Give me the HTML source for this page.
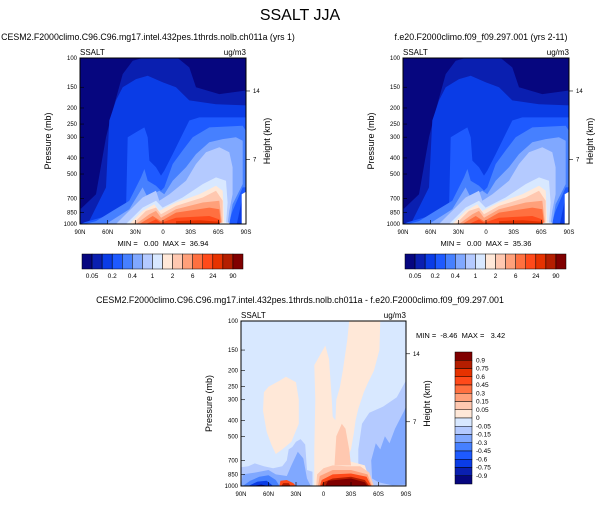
<!DOCTYPE html>
<html><head><meta charset="utf-8"><style>
body{margin:0;background:#fff;}
svg{display:block;font-family:"Liberation Sans",sans-serif;}
text{white-space:pre;}
</style></head><body>
<svg id="fig" width="601" height="505" viewBox="0 0 601 505" xmlns="http://www.w3.org/2000/svg">
<text x="300" y="20" font-size="16" text-anchor="middle">SSALT JJA</text>
</svg>
<script>
// ---- data ----
const pressureTicks=[100,150,200,250,300,400,500,700,850,1000];
const latTicks=[90,60,30,0,-30,-60,-90];
const latLabels=["90N","60N","30N","0","30S","60S","90S"];
const heightTicks=[14,7];
const heightTickPressure=[158,408];
const absLevels=["0.05","0.2","0.4","1","2","6","24","90"];
const absColors=["#06067f","#0a1fb0","#0a3ce6","#1e5aff","#4680ff","#80a8ff","#b4caff","#d8e8ff","#ffe8d8","#ffc8b0","#ffa07a","#ff7040","#ff4a1a","#e63200","#b41e00","#800000"];
const diffLevels=["0.9","0.75","0.6","0.45","0.3","0.15","0.05","0","-0.05","-0.15","-0.3","-0.45","-0.6","-0.75","-0.9"];
const diffColors=["#800000","#b41e00","#e63200","#ff4a1a","#ff7040","#ffa07a","#ffc8b0","#ffe8d8","#d8e8ff","#b4caff","#80a8ff","#4680ff","#1e5aff","#0a3ce6","#0a1fb0","#06067f"];
// contour regions: [colorIndex, [[lat,p],...]]  (-1 = missing/white)
const absRegions=[
[1,[[90,780],[89,810],[72.7,661],[61.8,300],[54.6,208],[43.7,125],[32.9,104],[22.1,100],[-15.9,100],[-28.5,114],[-35.8,150],[-61.1,165],[-90,157],[-90,1000],[90,1000]]],
[2,[[90,1000],[80,960],[61.8,602],[58.2,238],[51,180],[43.7,150],[29.3,134],[16.6,128],[0.4,140],[-14.1,150],[-28.5,180],[-57.5,190],[-90,193],[-90,1000]]],
[3,[[89,1000],[85,975],[54.6,874],[40.1,834],[38.3,300],[29.3,280],[20.2,262],[16.6,300],[14.8,415],[7.6,455],[2.2,511],[-1.4,477],[-10.5,379],[-21.3,287],[-28.5,238],[-39.4,228],[-90,228],[-90,661],[-86,700],[-80,1000]]],
[4,[[85,1000],[72.7,960],[54.6,834],[36.5,725],[23.9,524],[20.2,466],[16.6,549],[7.6,588],[2.2,631],[-1.4,602],[-10.5,435],[-21.3,361],[-32.2,300],[-50.2,262],[-86.4,256],[-90,275],[-90,600],[-86.4,602],[-75.5,834],[-72,960],[-72,1000]]],
[5,[[61.8,1000],[36.5,815],[22.1,602],[16.6,692],[4,631],[-1.4,661],[-10.5,549],[-24.9,455],[-35.8,379],[-50.2,322],[-64.7,308],[-79.1,300],[-86.4,315],[-86.4,575],[-75.5,760],[-72,1000]]],
[6,[[51,1000],[22.1,692],[7.6,631],[4,725],[-6.9,661],[-24.9,549],[-35.8,435],[-46.6,370],[-61.1,345],[-71.9,370],[-75.5,455],[-75.5,661],[-71.9,834],[-70.1,1000]]],
[7,[[40.1,1000],[22.1,796],[7.6,725],[0.4,796],[-21.3,692],[-43,575],[-57.5,524],[-68.3,549],[-70.1,742],[-68.3,1000]]],
[8,[[36.5,1000],[22.1,834],[9.4,760],[4,834],[-14.1,742],[-39.4,661],[-57.5,588],[-64.7,631],[-66.5,1000]]],
[9,[[32.9,1000],[18.4,834],[7.6,796],[2.2,874],[-14.1,778],[-43,692],[-57.5,631],[-64.7,725],[-64.7,1000]]],
[10,[[29.3,1000],[14.8,874],[7.6,834],[2.2,916],[-14.1,815],[-43,742],[-61.1,725],[-64,1000]]],
[11,[[25.7,1000],[11.2,895],[2.2,960],[-14.1,854],[-50.2,796],[-61.1,815],[-62.9,1000]]],
[12,[[18.4,1000],[7.6,938],[2.2,983],[-14.1,916],[-50.2,895],[-61.1,938],[-62,1000]]],
[13,[[-14.1,1000],[-14.1,960],[-40,950],[-61.1,970],[-61.5,1000]]],
[-1,[[-85.3,1000],[-85.3,661],[-90,640],[-90,1000]]],
[-1,[[-61.1,1000],[-62,983],[-71.9,983],[-71.9,1000]]]
];
const diffRegions=[
[9,[[-38,1000],[-38,600],[-42,420],[-50,360],[-65,330],[-80,290],[-88,240],[-90,230],[-90,1000]]],
[9,[[90,1000],[90,770],[82,760],[75,730],[65,760],[55,780],[45,760],[40,700],[38,600],[34,580],[30,540],[25,520],[20,560],[18,800],[12,820],[12,1000]]],
[10,[[90,1000],[88,850],[75,830],[60,800],[52,850],[40,870],[35,750],[28,620],[22,680],[18,900],[14,1000]]],
[10,[[-53,900],[-52,700],[-57,550],[-62,600],[-67,500],[-72,550],[-78,450],[-88,350],[-90,330],[-90,980],[-75,990],[-60,950]]],
[7,[[60,250],[48,230],[41,218],[30,235],[27,300],[27,420],[35,540],[45,600],[52,640],[57,560],[62,470],[66,350],[65,270]]],
[7,[[10,185],[-2,141],[-6,170],[-9,300],[-10,380],[-13,400],[-14,300],[-18,250],[-21,200],[-26,130],[-28,100],[-62,100],[-61,150],[-55,200],[-48,240],[-44,270],[-38,340],[-35,400],[-33,480],[-30,600],[-25,700],[-45,750],[-50,900],[-55,1000],[10,1000],[10,860],[10,600],[9,300]]],
[6,[[-12,750],[-14,500],[-20,420],[-24,450],[-28,600],[-30,750]]],
[11,[[88,1000],[80,930],[70,880],[60,860],[52,920],[48,1000]]],
[13,[[82,1000],[72,940],[62,930],[55,1000]]],
[15,[[78,1000],[68,980],[60,1000]]],
[3,[[48,1000],[47,930],[40,920],[33,960],[30,1000]]],
[1,[[46,1000],[44,960],[38,960],[36,1000]]],
[6,[[8,1000],[7,850],[0,780],[-10,750],[-25,760],[-40,760],[-50,830],[-55,1000]]],
[5,[[6,1000],[4,870],[-10,800],[-30,800],[-48,850],[-53,1000]]],
[3,[[4,1000],[2,920],[-10,850],[-30,840],[-47,880],[-52,1000]]],
[1,[[3,1000],[0,950],[-10,900],[-30,880],[-45,920],[-50,1000]]],
[0,[[-2,1000],[-5,930],[-30,900],[-45,950],[-48,1000]]]
];
// ---- drawing ----
const svg=document.getElementById('fig');
const NS="http://www.w3.org/2000/svg";
function mk(tag,attrs,parent){const e=document.createElementNS(NS,tag);for(const k in attrs)e.setAttribute(k,attrs[k]);(parent||svg).appendChild(e);return e;}
function txt(x,y,s,size,anchor,parent,rot){const t=mk('text',{x:x,y:y,'font-size':size,'text-anchor':anchor||'start'},parent);if(rot)t.setAttribute('transform','rotate(-90 '+x+' '+y+')');t.textContent=s;return t;}
function panel(L,T,W,H,bgIdx,colors,regions,name,sub,subX){
  const g=mk('g',{});
  
  
  const xs=lat=>L+(90-lat)/180*W;
  const ys=p=>T+Math.log10(p/100)*H;
  const bg=mk('rect',{x:L,y:T,width:W,height:H,fill:colors[bgIdx]},g);
  
  
  regions.forEach(r=>{
    const pts=r[1].map(q=>xs(q[0]).toFixed(1)+','+ys(q[1]).toFixed(1)).join(' ');
    const pg=mk('polygon',{points:pts,fill:r[0]<0?'#fff':colors[r[0]]},g);
    
    
  });
  mk('rect',{x:L,y:T,width:W,height:H,fill:'none',stroke:'#000','stroke-width':1},g);
  pressureTicks.forEach(p=>{const y=ys(p);mk('line',{x1:L,x2:L+4,y1:y,y2:y,stroke:'#000','stroke-width':0.6},g);
    const t=txt(L-3,y+2,String(p),6,'end',g);});
  latTicks.forEach((lat,i)=>{const x=xs(lat);mk('line',{x1:x,x2:x,y1:T+H,y2:T+H-4,stroke:'#000','stroke-width':0.6},g);
    const t=txt(x,T+H+10,latLabels[i],6,'middle',g);});
  heightTicks.forEach((h,i)=>{const y=ys(heightTickPressure[i]);mk('line',{x1:L+W,x2:L+W+4,y1:y,y2:y,stroke:'#000','stroke-width':0.6},g);
    const t=txt(L+W+7,y+2,String(h),6,'start',g);});
  let t=txt(L-29,T+H/2,'Pressure (mb)',9,'middle',g,true);
  t=txt(L+W+24,T+H/2,'Height (km)',9,'middle',g,true);
  t=txt(L,T-3,'SSALT',8,'start',g);
  t=txt(L+W,T-3,'ug/m3',8,'end',g);
  t=txt(subX,T-18,sub,8.8,'middle',g);
  return g;
}
function hbar(L,T,W,H){
  const bw=W/absColors.length;
  absColors.forEach((c,i)=>{const r=mk('rect',{x:L+i*bw,y:T,width:bw,height:H,fill:c,stroke:'#000','stroke-width':0.5});
    });
  absLevels.forEach((s,i)=>{const t=txt(L+(2*i+1)*bw,T+H+9,s,6.5,'middle');});
}
function vbar(L,T,W,H){
  const bh=H/diffColors.length;
  diffColors.forEach((c,i)=>{const r=mk('rect',{x:L,y:T+i*bh,width:W,height:bh,fill:c,stroke:'#000','stroke-width':0.5});
    });
  diffLevels.forEach((s,i)=>{const t=txt(L+W+4,T+(i+1)*bh+2,s,6.5,'start');});
}
panel(80,58,166,166,0,absColors,absRegions,'model-panel-left','CESM2.F2000climo.C96.C96.mg17.intel.432pes.1thrds.nolb.ch011a (yrs 1)',148);
panel(403,58,166,166,0,absColors,absRegions,'model-panel-right','f.e20.F2000climo.f09_f09.297.001 (yrs 2-11)',481);
panel(241,321,165,165,8,diffColors,diffRegions,'difference-panel','CESM2.F2000climo.C96.C96.mg17.intel.432pes.1thrds.nolb.ch011a - f.e20.F2000climo.f09_f09.297.001',300);
let m=txt(163,246,'MIN =   0.00  MAX =  36.94',7.5,'middle');
m=txt(486,246,'MIN =   0.00  MAX =  35.36',7.5,'middle');
m=txt(416,338,'MIN =  -8.46  MAX =   3.42',7.5,'start');
hbar(82,254,161,15);
hbar(405,254,161,15);
vbar(455,352,17,132);
</script>
</body></html>
